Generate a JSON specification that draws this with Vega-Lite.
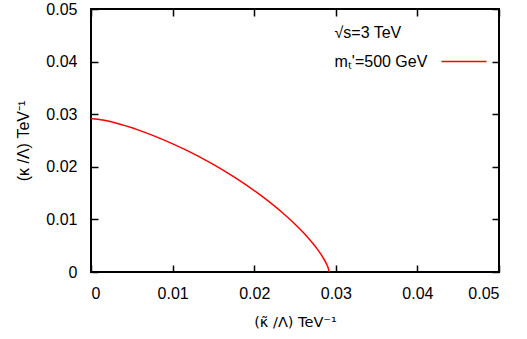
{
  "$schema": "https://vega.github.io/schema/vega-lite/v6.json",
  "width": 408,
  "height": 263,
  "autosize": {"type": "none"},
  "padding": {"left": 91, "top": 9, "right": 28, "bottom": 67},
  "background": "white",
  "config": {
    "view": {"stroke": "black", "strokeWidth": 2},
    "font": "Liberation Sans",
    "axis": {
      "grid": false,
      "domain": false,
      "tickSize": -7,
      "tickWidth": 1.5,
      "tickColor": "black",
      "labelFont": "Liberation Sans",
      "labelFontSize": 16,
      "labelColor": "black",
      "titleFont": "Liberation Sans",
      "titleFontSize": 16,
      "titleFontWeight": "normal",
      "titleColor": "black"
    }
  },
  "data": {
    "values": [
      {"kt": 0.0, "k": 0.0292, "series": "mₜ'=500 GeV"},
      {"kt": 0.00146, "k": 0.02889, "series": "mₜ'=500 GeV"},
      {"kt": 0.00292, "k": 0.02837, "series": "mₜ'=500 GeV"},
      {"kt": 0.00584, "k": 0.02697, "series": "mₜ'=500 GeV"},
      {"kt": 0.00876, "k": 0.02522, "series": "mₜ'=500 GeV"},
      {"kt": 0.01168, "k": 0.02316, "series": "mₜ'=500 GeV"},
      {"kt": 0.0146, "k": 0.02078, "series": "mₜ'=500 GeV"},
      {"kt": 0.01752, "k": 0.01807, "series": "mₜ'=500 GeV"},
      {"kt": 0.02044, "k": 0.01499, "series": "mₜ'=500 GeV"},
      {"kt": 0.02336, "k": 0.01141, "series": "mₜ'=500 GeV"},
      {"kt": 0.02482, "k": 0.00936, "series": "mₜ'=500 GeV"},
      {"kt": 0.02628, "k": 0.00706, "series": "mₜ'=500 GeV"},
      {"kt": 0.02774, "k": 0.00434, "series": "mₜ'=500 GeV"},
      {"kt": 0.02847, "k": 0.00265, "series": "mₜ'=500 GeV"},
      {"kt": 0.02891, "k": 0.00138, "series": "mₜ'=500 GeV"},
      {"kt": 0.02905, "k": 0.00084, "series": "mₜ'=500 GeV"},
      {"kt": 0.0292, "k": 0.0, "series": "mₜ'=500 GeV"}
    ]
  },
  "layer": [
    {
      "mark": {"type": "line", "interpolate": "monotone", "strokeWidth": 1.5, "clip": true},
      "encoding": {
        "x": {
          "field": "kt", "type": "quantitative",
          "scale": {"domain": [0, 0.05], "nice": false, "zero": false},
          "axis": {"orient": "bottom", "values": [0, 0.01, 0.02, 0.03, 0.04, 0.05], "format": "~g", "labelPadding": 20, "title": "(κ̃ /Λ) TeV⁻¹", "titleFont": "DejaVu Sans", "titleFontSize": 14.5, "titlePadding": 14}
        },
        "y": {
          "field": "k", "type": "quantitative",
          "scale": {"domain": [0, 0.05], "nice": false, "zero": false},
          "axis": {"orient": "left", "values": [0, 0.01, 0.02, 0.03, 0.04, 0.05], "format": "~g", "labelPadding": 21, "title": "(κ /Λ) TeV⁻¹", "titlePadding": 14}
        },
        "color": {
          "field": "series", "type": "nominal",
          "scale": {"range": ["#ff0000"]},
          "legend": {
            "orient": "none",
            "legendX": 243.5,
            "legendY": 16,
            "padding": 0,
            "title": "√s=3 TeV",
            "titleFontSize": 16,
            "titleFontWeight": "normal",
            "titleFont": "Liberation Sans",
            "titleColor": "black",
            "titlePadding": -3,
            "labelFontSize": 16,
            "labelFont": "Liberation Sans",
            "labelColor": "black",
            "symbolType": "stroke",
            "symbolSize": 2025,
            "symbolStrokeWidth": 1.5,
            "labelOffset": -153,
            "symbolOffset": 106
          }
        }
      }
    },
    {
      "mark": {"type": "line", "opacity": 0},
      "encoding": {
        "x": {
          "field": "kt", "type": "quantitative",
          "scale": {"domain": [0, 0.05], "nice": false, "zero": false},
          "axis": {"orient": "top", "values": [0, 0.01, 0.02, 0.03, 0.04, 0.05], "labels": false, "title": null}
        },
        "y": {
          "field": "k", "type": "quantitative",
          "scale": {"domain": [0, 0.05], "nice": false, "zero": false},
          "axis": {"orient": "right", "values": [0, 0.01, 0.02, 0.03, 0.04, 0.05], "labels": false, "title": null}
        }
      }
    }
  ],
  "resolve": {"scale": {"x": "independent", "y": "independent"}, "axis": {"x": "independent", "y": "independent"}}
}
